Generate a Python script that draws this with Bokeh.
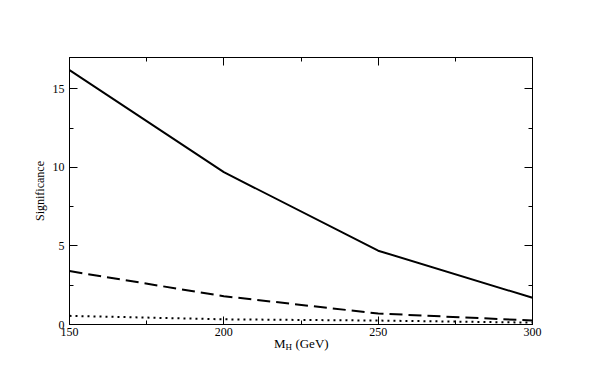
from bokeh.plotting import figure
from bokeh.models import LinearAxis, Label, Range1d, FixedTicker, CustomLabelingPolicy
from bokeh.embed import file_html
from bokeh.resources import INLINE

# data
masses = [150, 200, 250, 300]
sig_solid = [16.2, 9.7, 4.7, 1.7]
sig_dashed = [3.4, 1.8, 0.7, 0.25]
sig_dotted = [0.55, 0.33, 0.25, 0.12]
x_ticks = [150, 200, 250, 300]
x_minor = [175, 225, 275]
y_ticks = [0, 5, 10, 15]
y_minor = [2.5, 7.5, 12.5]
y_label = "Significance"
x_label_main = "M"
x_label_sub = "H"
x_label_rest = "(GeV)"

FONT = "Liberation Serif"

p = figure(width=595, height=378, output_backend="svg", toolbar_location=None,
           x_range=Range1d(150, 300), y_range=Range1d(0, 17),
           min_border_left=69, min_border_right=63, min_border_top=57, min_border_bottom=54)
p.xgrid.visible = False
p.ygrid.visible = False
p.outline_line_color = "black"
p.background_fill_color = "white"
p.border_fill_color = "white"

p.line(masses, sig_solid, line_color="black", line_width=2)
p.line(masses, sig_dashed, line_color="black", line_width=2, line_dash="13 6")
p.line(masses, sig_dotted, line_color="black", line_width=2, line_dash="2 4")

hide_all = CustomLabelingPolicy(code="""
const keep = [];
for (const i of indices) keep.push(i);
for (const i of keep) indices.unset(i);
return indices;
""")

def style_axis(ax, labels=True):
    ax.axis_line_color = "black"
    ax.major_tick_line_color = "black"
    ax.minor_tick_line_color = "black"
    ax.major_tick_in = 8
    ax.major_tick_out = 0
    ax.minor_tick_in = 4
    ax.minor_tick_out = 0
    ax.major_label_text_font = FONT
    ax.major_label_text_font_size = "12px"
    ax.major_label_text_color = "black"
    if not labels:
        ax.major_label_policy = hide_all
        ax.major_label_standoff = 0

xb = p.xaxis[0]
xb.ticker = FixedTicker(ticks=x_ticks, minor_ticks=x_minor)
style_axis(xb)
xb.major_label_standoff = 3

yl = p.yaxis[0]
yl.ticker = FixedTicker(ticks=y_ticks, minor_ticks=y_minor)
style_axis(yl)
yl.major_label_standoff = 5
yl.axis_label = y_label
yl.axis_label_text_font = FONT
yl.axis_label_text_font_size = "12px"
yl.axis_label_text_font_style = "normal"
yl.axis_label_text_color = "black"
yl.axis_label_standoff = 3

xt = LinearAxis(ticker=FixedTicker(ticks=x_ticks, minor_ticks=x_minor))
style_axis(xt, labels=False)
p.add_layout(xt, "above")

yr = LinearAxis(ticker=FixedTicker(ticks=y_ticks, minor_ticks=y_minor))
style_axis(yr, labels=False)
p.add_layout(yr, "right")

# x-axis title with subscript, placed in the lower side panel (not clipped)
xc = (x_ticks[0] + x_ticks[-1]) / 2
for txt, dx, dy, size in [(x_label_main, -27, -19, "13px"),
                          (x_label_sub, -15.4, -22, "9px"),
                          (x_label_rest, -5.6, -19, "13px")]:
    p.add_layout(Label(x=xc, y=y_ticks[0], x_offset=dx, y_offset=dy, text=txt,
                       text_font=FONT, text_font_size=size, text_align="left",
                       text_baseline="alphabetic", text_color="black"), "below")

open("out.html", "w").write(file_html(p, INLINE))
